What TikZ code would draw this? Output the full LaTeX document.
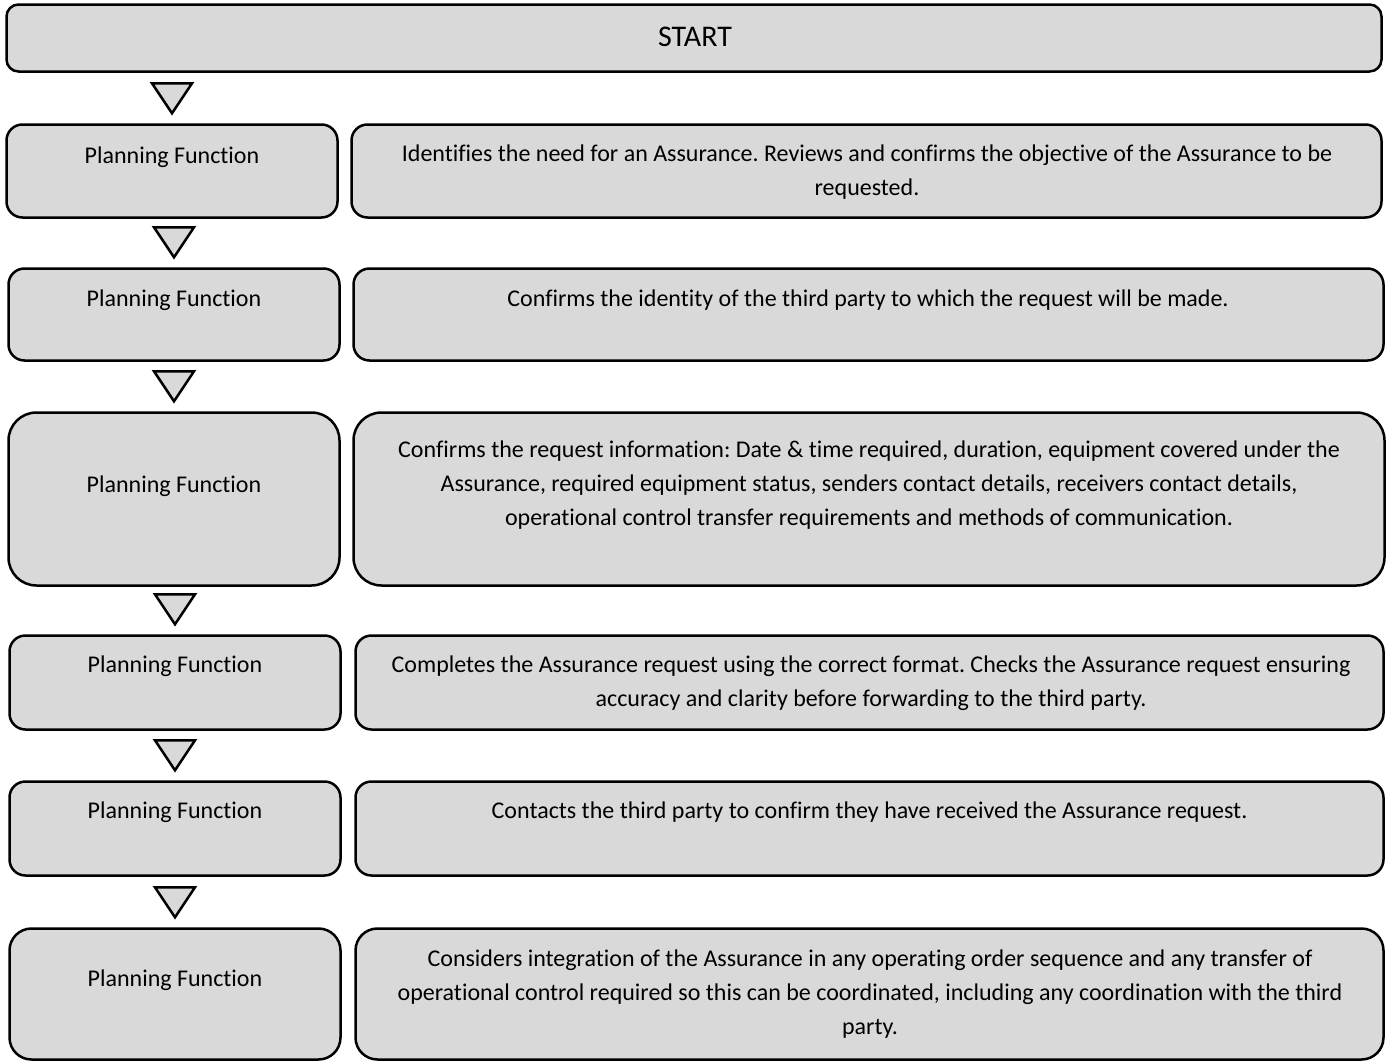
\documentclass[tikz,border=0pt]{standalone}
\usepackage{fontspec}
\setmainfont{Carlito}[Ligatures=NoCommon]
\frenchspacing
\usetikzlibrary{positioning, calc}
\definecolor{boxgray}{HTML}{D9D9D9}
\tikzset{
	stepbox/.style={fill=boxgray, draw=black, line width=2.5pt, rectangle, inner sep=0pt, rounded corners=#1},
	stepbox/.default=16pt,
	steptext/.style={text centered, align=center, inner sep=0pt, font=\fontsize{24}{34}\selectfont},
	downtri/.style={fill=boxgray, draw=black, line width=2.5pt, line join=miter}
}

\begin{document}
\begin{tikzpicture}[x=1pt, y=1pt]
	\useasboundingbox (0,0) rectangle (1387,-1063);

	% Start block
	\node (Start) at (694,-38) [stepbox=12pt, minimum width=1375pt, minimum height=67pt]{};
	\node (Start-Text) at (695,-37) [steptext, font=\fontsize{30}{36}\selectfont]{START};

	% Row 1
	\node (PlanningFunction1) at (172,-171) [stepbox, minimum width=331pt, minimum height=93pt]{};
	\node (PlanningFunction1-Text) at (172,-157) [steptext]{Planning Function};
	\node (Description1) at (866.5,-171) [stepbox, minimum width=1030pt, minimum height=93pt]{};
	\node (Description1-Text) at (867,-172.5) [steptext]{Identifies the need for an Assurance. Reviews and confirms the objective of the Assurance to be\\requested.};

	% Row 2
	\node (PlanningFunction2) at (174,-314.5) [stepbox, minimum width=331pt, minimum height=92pt]{};
	\node (PlanningFunction2-Text) at (174,-300) [steptext]{Planning Function};
	\node (Description2) at (868.5,-314.5) [stepbox, minimum width=1030pt, minimum height=92pt]{};
	\node (Description2-Text) at (868,-300) [steptext]{Confirms the identity of the third party to which the request will be made.};

	% Row 3
	\node (PlanningFunction3) at (174,-499) [stepbox=28pt, minimum width=331pt, minimum height=173pt]{};
	\node (PlanningFunction3-Text) at (174,-486) [steptext]{Planning Function};
	\node (Description3) at (869,-499) [stepbox=28pt, minimum width=1031pt, minimum height=173pt]{};
	\node (Description3-Text) at (869,-485) [steptext]{Confirms the request information: Date \& time required, duration, equipment covered under the\\Assurance, required equipment status, senders contact details, receivers contact details,\\operational control transfer requirements and methods of communication.};

	% Row 4
	\node (PlanningFunction4) at (175,-682.5) [stepbox, minimum width=331pt, minimum height=94pt]{};
	\node (PlanningFunction4-Text) at (175,-666) [steptext]{Planning Function};
	\node (Description4) at (869.5,-682.5) [stepbox, minimum width=1028pt, minimum height=94pt]{};
	\node (Description4-Text) at (871,-683) [steptext]{Completes the Assurance request using the correct format. Checks the Assurance request ensuring\\accuracy and clarity before forwarding to the third party.};

	% Row 5
	\node (PlanningFunction5) at (175,-828.5) [stepbox, minimum width=331pt, minimum height=94pt]{};
	\node (PlanningFunction5-Text) at (175,-812) [steptext]{Planning Function};
	\node (Description5) at (869.5,-828.5) [stepbox, minimum width=1028pt, minimum height=94pt]{};
	\node (Description5-Text) at (869.5,-812) [steptext]{Contacts the third party to confirm they have received the Assurance request.};

	% Row 6
	\node (PlanningFunction6) at (175,-994) [stepbox=22pt, minimum width=331pt, minimum height=131pt]{};
	\node (PlanningFunction6-Text) at (175,-980) [steptext]{Planning Function};
	\node (Description6) at (869.5,-994) [stepbox=22pt, minimum width=1028pt, minimum height=131pt]{};
	\node (Description6-Text) at (870,-994) [steptext]{Considers integration of the Assurance in any operating order sequence and any transfer of\\operational control required so this can be coordinated, including any coordination with the third\\party.};

	% Down triangles
	\foreach \row in {1,...,6}
		\draw[downtri] ($(PlanningFunction\row.north)+(-20,40)$) -- ($(PlanningFunction\row.north)+(20,40)$) -- ($(PlanningFunction\row.north)+(0,10)$) -- cycle;
\end{tikzpicture}
\end{document}
